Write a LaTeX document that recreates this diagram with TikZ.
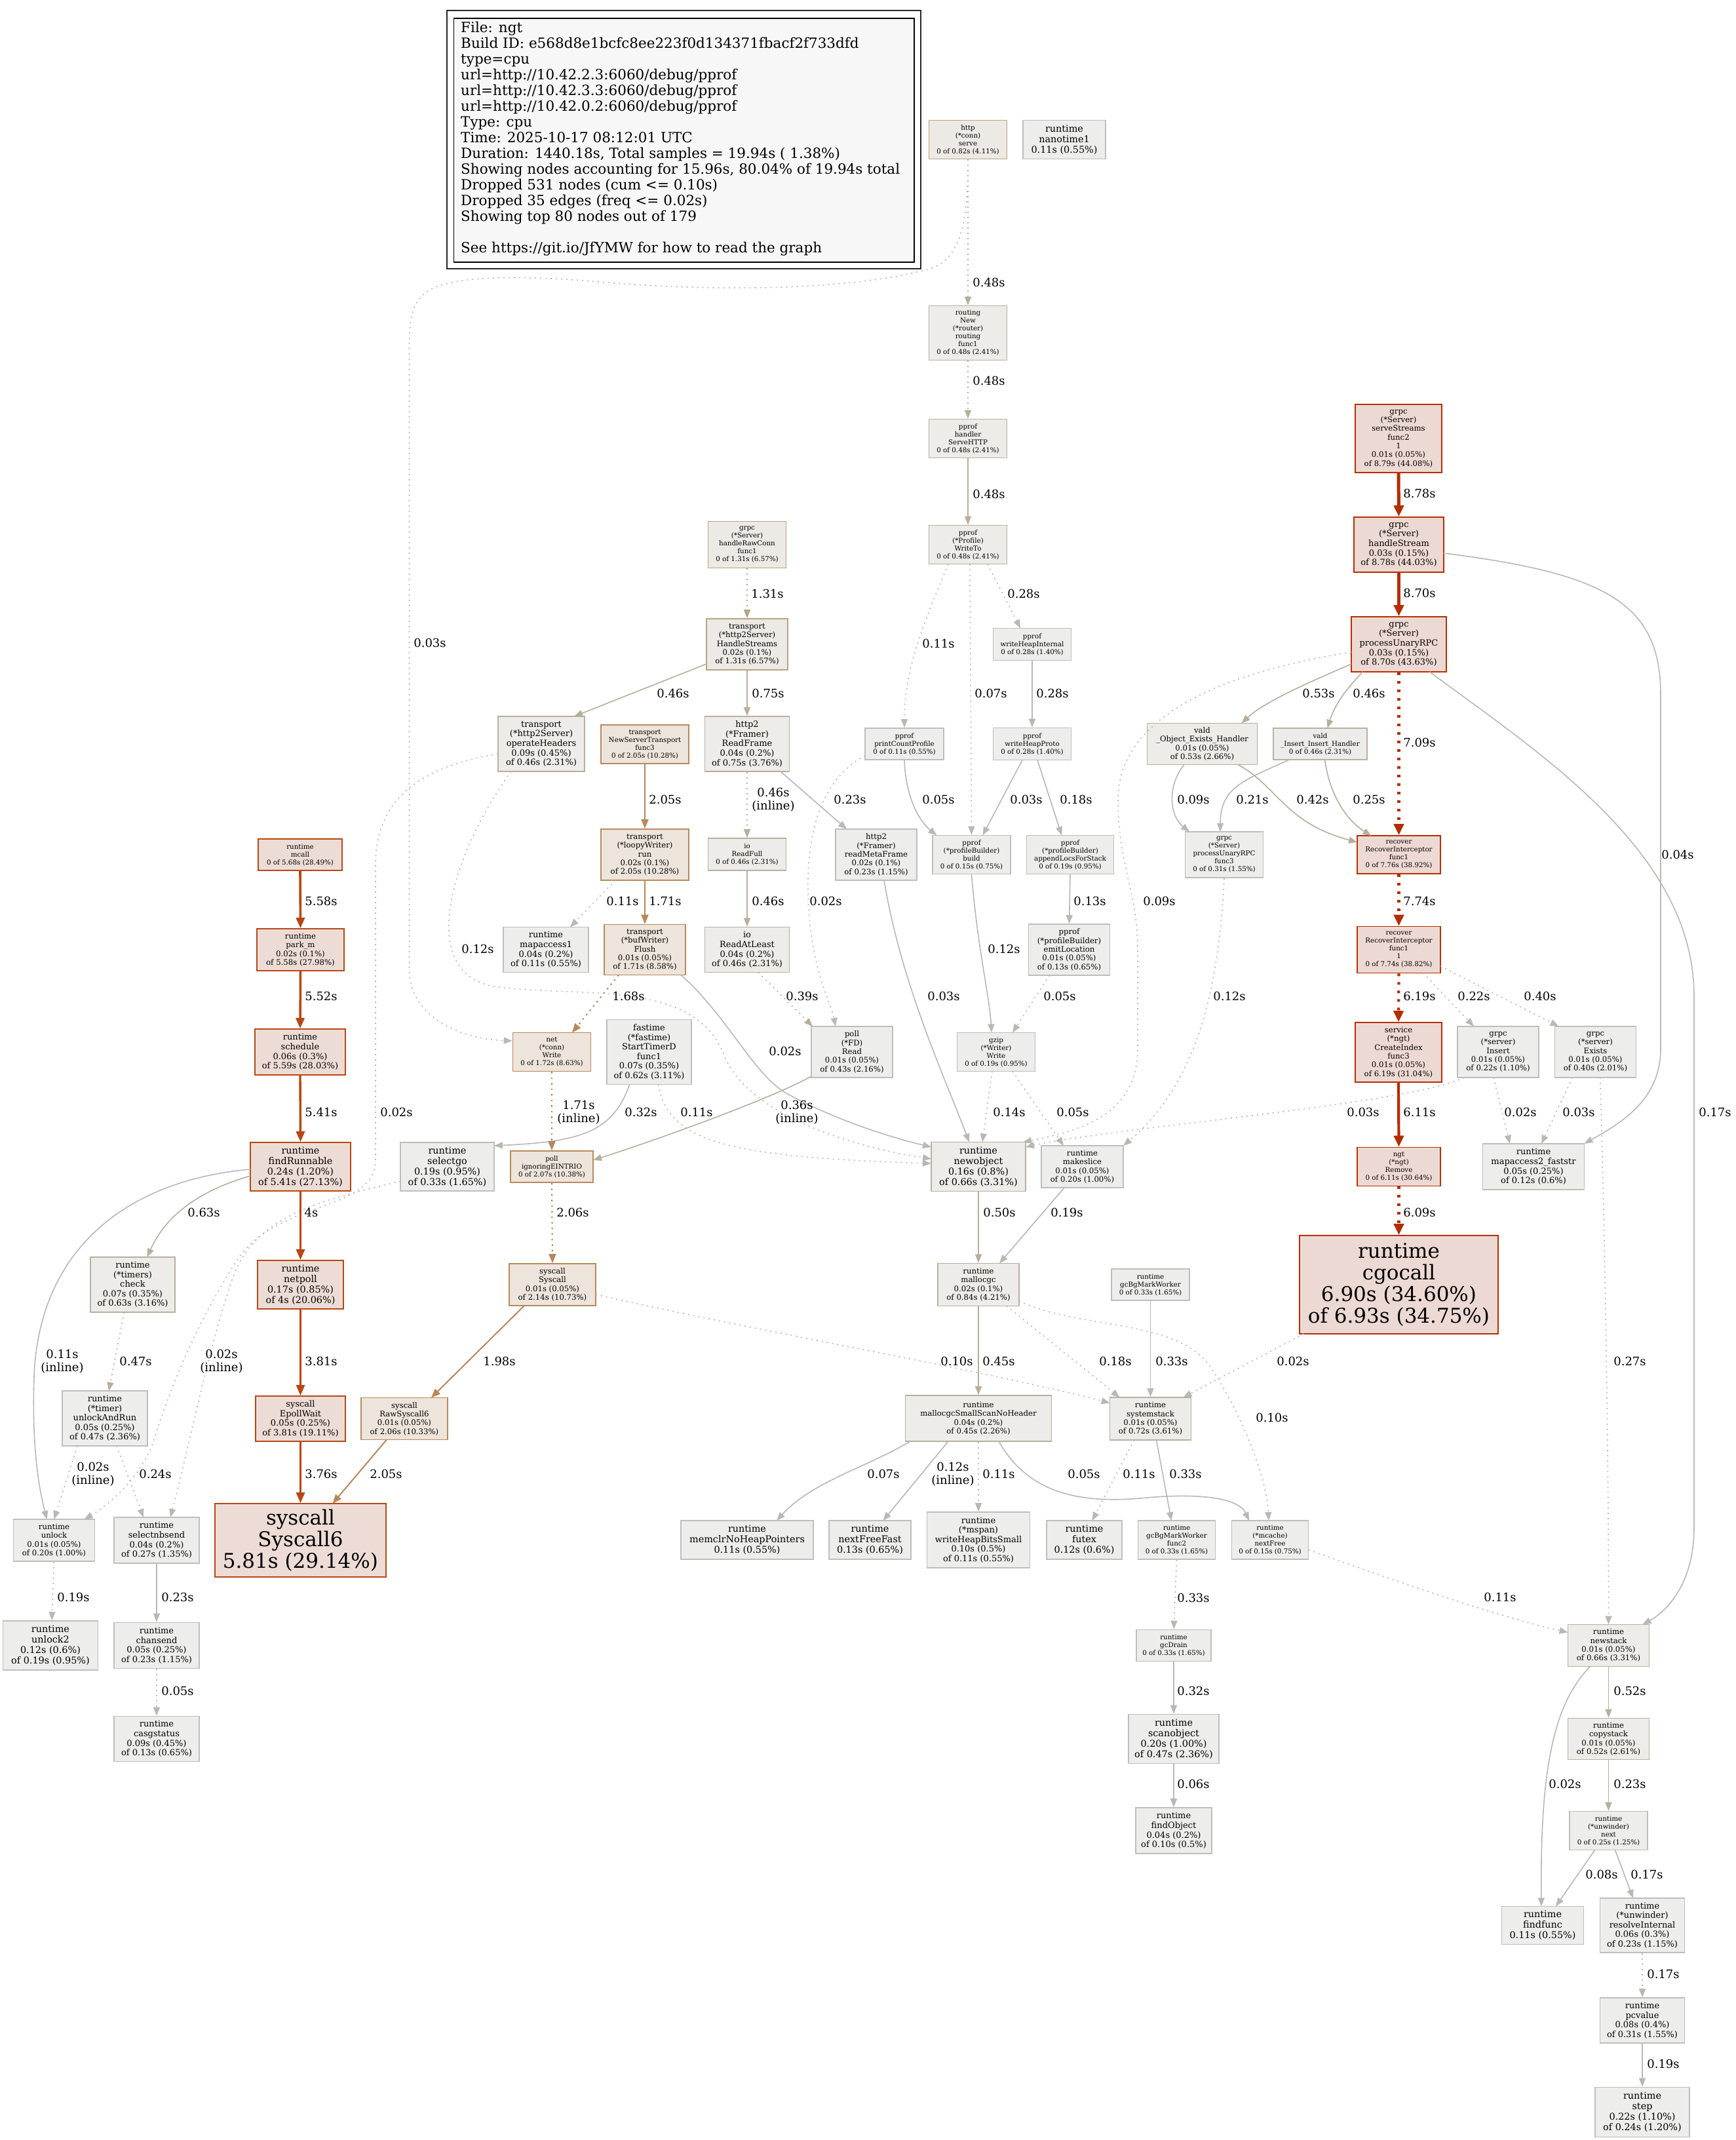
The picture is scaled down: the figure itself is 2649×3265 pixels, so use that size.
\documentclass[tikz,border=0pt]{standalone}
\usepackage{fontspec}
\setmainfont{DejaVu Serif}
\usetikzlibrary{arrows.meta,calc}
\definecolor{gryD}{HTML}{BEBEBA}
\definecolor{gryF}{HTML}{EDEDEB}
\definecolor{gtD}{HTML}{B8B0A0}
\definecolor{gtF}{HTML}{EDECE9}
\definecolor{lbD}{HTML}{B8A486}
\definecolor{lbF}{HTML}{EDE9E4}
\definecolor{tanD}{HTML}{B88A5C}
\definecolor{tanF}{HTML}{EDE4DB}
\definecolor{orD}{HTML}{B84814}
\definecolor{orF}{HTML}{EDDCD5}
\definecolor{rdD}{HTML}{B53000}
\definecolor{rdF}{HTML}{EDD9D3}
\definecolor{eGry}{HTML}{B8B8B5}
\definecolor{eGt}{HTML}{B8AE9C}
\definecolor{eTan}{HTML}{B8875A}
\definecolor{eOr}{HTML}{B84612}
\definecolor{eRd}{HTML}{B52C00}
\definecolor{legF}{HTML}{F7F7F7}
\tikzset{
 box/.style={rectangle, draw, line width=1.6pt, inner sep=0pt, align=center},
 sz/.style 2 args={minimum width=#1pt, minimum height=#2pt},
 ngry/.style={box, draw=gryD, fill=gryF},
 ngt/.style={box, draw=gtD, fill=gtF},
 nlb/.style={box, draw=lbD, fill=lbF},
 ntan/.style={box, draw=tanD, fill=tanF},
 nor/.style={box, draw=orD, fill=orF},
 nrd/.style={box, draw=rdD, fill=rdF},
 ft/.style={font=\fontsize{10.3}{12}\selectfont},
 fs/.style={font=\fontsize{11.7}{13.3}\selectfont},
 fm/.style={font=\fontsize{13}{14.6}\selectfont},
 fl/.style={font=\fontsize{14.4}{16}\selectfont},
 fh/.style={font=\fontsize{31}{33}\selectfont},
 lbl/.style={font=\fontsize{18}{20}\selectfont, inner sep=0pt, align=center},
 eg/.style={draw=eGry, line width=1.6pt, -{Triangle[length=13pt,width=10pt]}},
 egd/.style={eg, dash pattern=on 2pt off 6pt},
 egt/.style={draw=eGt, line width=1.6pt, -{Triangle[length=13pt,width=10pt]}},
 egtd/.style={egt, dash pattern=on 2pt off 6pt},
 etan/.style={draw=eTan, line width=2pt, -{Triangle[length=14pt,width=11pt]}},
 etand/.style={etan, dash pattern=on 2.5pt off 6pt},
 eor/.style={draw=eOr, line width=#1pt, -{Triangle[length=16pt,width=13pt]}},
 erd/.style={draw=eRd, line width=#1pt, -{Triangle[length=17pt,width=15pt]}},
 erdd/.style={erd=#1, dash pattern=on 4pt off 9pt},
}
\begin{document}
\begin{tikzpicture}[x=1pt,y=-1pt]
\useasboundingbox[fill=white] (0,0) rectangle (2649,3265);
% legend
\node[draw=black!85, line width=1.6pt, sz={723}{394}, anchor=north west] (legout) at (681,15) {};
\node[draw=black, fill=legF, line width=1.6pt, sz={702.5}{372}, anchor=north west] (legin) at (691.5,27) {};
\node[anchor=north west, align=left, inner sep=0pt, font=\fontsize{21.5}{24}\selectfont] (legtext) at (703,33) {File: ngt\\Build ID: e568d8e1bcfc8ee223f0d134371fbacf2f733dfd\\type=cpu\\url=http://10.42.2.3:6060/debug/pprof\\url=http://10.42.3.3:6060/debug/pprof\\url=http://10.42.0.2:6060/debug/pprof\\Type: cpu\\Time: 2025-10-17 08:12:01 UTC\\Duration: 1440.18s, Total samples = 19.94s ( 1.38\%)\\Showing nodes accounting for 15.96s, 80.04\% of 19.94s total\\Dropped 531 nodes (cum <= 0.10s)\\Dropped 35 edges (freq <= 0.02s)\\Showing top 80 nodes out of 179\\\mbox{}\\See https://git.io/JfYMW for how to read the graph};

% nodes
\node[nlb,ft,sz={119}{59}] (httpserve) at (1477,213) {http\\(*conn)\\serve\\0 of 0.82s (4.11\%)};
\node[ngry,fl,sz={126}{59}] (nanotime) at (1624,213) {runtime\\nanotime1\\0.11s (0.55\%)};
\node[ngt,ft,sz={119}{83}] (routing) at (1477,508) {routing\\New\\(*router)\\routing\\func1\\0 of 0.48s (2.41\%)};
\node[ngt,ft,sz={119}{59}] (servehttp) at (1477,669) {pprof\\handler\\ServeHTTP\\0 of 0.48s (2.41\%)};
\node[ngt,ft,sz={119}{59}] (writeto) at (1477,831) {pprof\\(*Profile)\\WriteTo\\0 of 0.48s (2.41\%)};
\node[nlb,ft,sz={119}{71}] (rawconn) at (1140,831) {grpc\\(*Server)\\handleRawConn\\func1\\0 of 1.31s (6.57\%)};
\node[nrd,fs,sz={132}{104}] (servestreams) at (2134,669) {grpc\\(*Server)\\serveStreams\\func2\\1\\0.01s (0.05\%)\\of 8.79s (44.08\%)};
\node[nrd,fm,sz={137}{84}] (handlestream) at (2134.5,831) {grpc\\(*Server)\\handleStream\\0.03s (0.15\%)\\of 8.78s (44.03\%)};
\node[nlb,fs,sz={124}{78}] (handlestreams) at (1140,983) {transport\\(*http2Server)\\HandleStreams\\0.02s (0.1\%)\\of 1.31s (6.57\%)};
\node[ngry,ft,sz={119}{49}] (writeheapint) at (1575,983) {pprof\\writeHeapInternal\\0 of 0.28s (1.40\%)};
\node[nrd,fm,sz={145}{84}] (processunary) at (2134.5,983) {grpc\\(*Server)\\processUnaryRPC\\0.03s (0.15\%)\\of 8.70s (43.63\%)};
\node[ngt,fm,sz={132}{84}] (operateheaders) at (826,1135) {transport\\(*http2Server)\\operateHeaders\\0.09s (0.45\%)\\of 0.46s (2.31\%)};
\node[ntan,ft,sz={134}{59}] (newserver) at (984,1135.5) {transport\\NewServerTransport\\func3\\0 of 2.05s (10.28\%)};
\node[ngt,fm,sz={129}{84}] (readframe) at (1140,1135) {http2\\(*Framer)\\ReadFrame\\0.04s (0.2\%)\\of 0.75s (3.76\%)};
\node[ngry,ft,sz={120}{48}] (printcount) at (1380,1135) {pprof\\printCountProfile\\0 of 0.11s (0.55\%)};
\node[ngry,ft,sz={119}{49}] (writeheapproto) at (1575,1135) {pprof\\writeHeapProto\\0 of 0.28s (1.40\%)};
\node[ngt,fs,sz={168}{63}] (objexists) at (1834.5,1135) {vald\\\_Object\_Exists\_Handler\\0.01s (0.05\%)\\of 0.53s (2.66\%)};
\node[ngt,ft,sz={143}{48}] (inserthandler) at (2014.5,1135) {vald\\\_Insert\_Insert\_Handler\\0 of 0.46s (2.31\%)};
\node[nor,ft,sz={128}{48}] (mcall) at (458,1304) {runtime\\mcall\\0 of 5.68s (28.49\%)};
\node[ntan,fs,sz={134}{78}] (loopy) at (984,1304) {transport\\(*loopyWriter)\\run\\0.02s (0.1\%)\\of 2.05s (10.28\%)};
\node[ngt,ft,sz={119}{49}] (readfull) at (1140,1303.5) {io\\ReadFull\\0 of 0.46s (2.31\%)};
\node[ngry,fs,sz={124}{78}] (readmeta) at (1337,1304) {http2\\(*Framer)\\readMetaFrame\\0.02s (0.1\%)\\of 0.23s (1.15\%)};
\node[ngry,ft,sz={119}{59}] (build) at (1482.5,1304) {pprof\\(*profileBuilder)\\build\\0 of 0.15s (0.75\%)};
\node[ngry,ft,sz={133}{59}] (appendlocs) at (1633,1304) {pprof\\(*profileBuilder)\\appendLocsForStack\\0 of 0.19s (0.95\%)};
\node[ngry,ft,sz={119}{70}] (func3) at (1868,1304) {grpc\\(*Server)\\processUnaryRPC\\func3\\0 of 0.31s (1.55\%)};
\node[nrd,ft,sz={127}{58}] (recint) at (2134.5,1304) {recover\\RecoverInterceptor\\func1\\0 of 7.76s (38.92\%)};
\node[nor,fs,sz={133}{64}] (parkm) at (458.5,1449) {runtime\\park\_m\\0.02s (0.1\%)\\of 5.58s (27.98\%)};
\node[ngry,fm,sz={130}{69}] (mapaccess1) at (833,1449) {runtime\\mapaccess1\\0.04s (0.2\%)\\of 0.11s (0.55\%)};
\node[ntan,fs,sz={124}{77}] (flush) at (984,1449) {transport\\(*bufWriter)\\Flush\\0.01s (0.05\%)\\of 1.71s (8.58\%)};
\node[ngt,fm,sz={129}{69}] (readatleast) at (1140,1449) {io\\ReadAtLeast\\0.04s (0.2\%)\\of 0.46s (2.31\%)};
\node[ngry,fs,sz={124}{78}] (emitloc) at (1631.5,1449) {pprof\\(*profileBuilder)\\emitLocation\\0.01s (0.05\%)\\of 0.13s (0.65\%)};
\node[nrd,ft,sz={127}{71}] (recint1) at (2134.5,1449) {recover\\RecoverInterceptor\\func1\\1\\0 of 7.74s (38.82\%)};
\node[nor,fm,sz={138}{70}] (schedule) at (458,1605) {runtime\\schedule\\0.06s (0.3\%)\\of 5.59s (28.03\%)};
\node[ntan,ft,sz={119}{59}] (netwrite) at (842,1605) {net\\(*conn)\\Write\\0 of 1.72s (8.63\%)};
\node[ngry,fm,sz={129}{99}] (fastime) at (990.5,1605) {fastime\\(*fastime)\\StartTimerD\\func1\\0.07s (0.35\%)\\of 0.62s (3.11\%)};
\node[ngry,fs,sz={124}{78}] (fdread) at (1300,1605) {poll\\(*FD)\\Read\\0.01s (0.05\%)\\of 0.43s (2.16\%)};
\node[ngry,ft,sz={119}{59}] (gzip) at (1520,1605) {gzip\\(*Writer)\\Write\\0 of 0.19s (0.95\%)};
\node[nrd,fs,sz={132}{91}] (createindex) at (2134,1605.5) {service\\(*ngt)\\CreateIndex\\func3\\0.01s (0.05\%)\\of 6.19s (31.04\%)};
\node[ngry,fs,sz={124}{78}] (insert) at (2286,1605) {grpc\\(*server)\\Insert\\0.01s (0.05\%)\\of 0.22s (1.10\%)};
\node[ngry,fs,sz={124}{78}] (exists) at (2434.5,1605) {grpc\\(*server)\\Exists\\0.01s (0.05\%)\\of 0.40s (2.01\%)};
\node[nor,fl,sz={153}{74}] (findrunnable) at (458.5,1780) {runtime\\findRunnable\\0.24s (1.20\%)\\of 5.41s (27.13\%)};
\node[ngry,fl,sz={143}{74}] (selectgo) at (682.5,1780) {runtime\\selectgo\\0.19s (0.95\%)\\of 0.33s (1.65\%)};
\node[ntan,ft,sz={126}{48}] (eintr) at (842,1780) {poll\\ignoringEINTRIO\\0 of 2.07s (10.38\%)};
\node[ngt,fl,sz={144}{75}] (newobject) at (1493,1780) {runtime\\newobject\\0.16s (0.8\%)\\of 0.66s (3.31\%)};
\node[ngry,fs,sz={125}{64}] (makeslice) at (1651.5,1780) {runtime\\makeslice\\0.01s (0.05\%)\\of 0.20s (1.00\%)};
\node[nrd,ft,sz={127}{59}] (remove) at (2134.5,1780) {ngt\\(*ngt)\\Remove\\0 of 6.11s (30.64\%)};
\node[ngry,fm,sz={155}{70}] (mapaccess2) at (2340,1780) {runtime\\mapaccess2\_faststr\\0.05s (0.25\%)\\of 0.12s (0.6\%)};
\node[ngt,fm,sz={129}{84}] (timerscheck) at (202.5,1960) {runtime\\(*timers)\\check\\0.07s (0.35\%)\\of 0.63s (3.16\%)};
\node[nor,fl,sz={131}{74}] (netpoll) at (458.5,1960) {runtime\\netpoll\\0.17s (0.85\%)\\of 4s (20.06\%)};
\node[ntan,fs,sz={132}{64}] (syscall) at (843,1960) {syscall\\Syscall\\0.01s (0.05\%)\\of 2.14s (10.73\%)};
\node[ngt,fs,sz={124}{65}] (mallocgc) at (1493,1960) {runtime\\mallocgc\\0.02s (0.1\%)\\of 0.84s (4.21\%)};
\node[ngry,ft,sz={119}{48}] (gcbg) at (1755.5,1960) {runtime\\gcBgMarkWorker\\0 of 0.33s (1.65\%)};
\node[nrd,fh,sz={303}{150}] (cgocall) at (2134.5,1960) {runtime\\cgocall\\6.90s (34.60\%)\\of 6.93s (34.75\%)};
\node[ngry,fm,sz={130}{84}] (unlockandrun) at (160,2164) {runtime\\(*timer)\\unlockAndRun\\0.05s (0.25\%)\\of 0.47s (2.36\%)};
\node[nor,fm,sz={137}{69}] (epollwait) at (458.5,2164.5) {syscall\\EpollWait\\0.05s (0.25\%)\\of 3.81s (19.11\%)};
\node[ntan,fs,sz={132}{64}] (rawsyscall6) at (617,2164.5) {syscall\\RawSyscall6\\0.01s (0.05\%)\\of 2.06s (10.33\%)};
\node[ngt,fs,sz={223}{70}] (mallocsmall) at (1493,2164) {runtime\\mallocgcSmallScanNoHeader\\0.04s (0.2\%)\\of 0.45s (2.26\%)};
\node[ngt,fs,sz={124}{65}] (systemstack) at (1755.5,2164.5) {runtime\\systemstack\\0.01s (0.05\%)\\of 0.72s (3.61\%)};
\node[ngry,fs,sz={124}{64}] (unlock) at (82.5,2350) {runtime\\unlock\\0.01s (0.05\%)\\of 0.20s (1.00\%)};
\node[ngry,fm,sz={130}{70}] (selectnbsend) at (239,2350) {runtime\\selectnbsend\\0.04s (0.2\%)\\of 0.27s (1.35\%)};
\node[nor,fh,sz={261}{112}] (syscall6) at (458.5,2350) {syscall\\Syscall6\\5.81s (29.14\%)};
\node[ngry,fl,sz={202}{59}] (memclr) at (1140,2349.5) {runtime\\memclrNoHeapPointers\\0.11s (0.55\%)};
\node[ngry,fl,sz={125}{59}] (nextfreefast) at (1327.5,2349.5) {runtime\\nextFreeFast\\0.13s (0.65\%)};
\node[ngry,fm,sz={157}{85}] (writeheapbits) at (1493,2349.5) {runtime\\(*mspan)\\writeHeapBitsSmall\\0.10s (0.5\%)\\of 0.11s (0.55\%)};
\node[ngry,fl,sz={115}{59}] (futex) at (1654.5,2349.5) {runtime\\futex\\0.12s (0.6\%)};
\node[ngry,ft,sz={118}{59}] (gcfunc2) at (1795.5,2349.5) {runtime\\gcBgMarkWorker\\func2\\0 of 0.33s (1.65\%)};
\node[ngry,ft,sz={117}{59}] (mcachenext) at (1938,2349.5) {runtime\\(*mcache)\\nextFree\\0 of 0.15s (0.75\%)};
\node[ngry,fl,sz={145}{75}] (unlock2) at (77,2510.5) {runtime\\unlock2\\0.12s (0.6\%)\\of 0.19s (0.95\%)};
\node[ngry,fm,sz={130}{70}] (chansend) at (239,2510.5) {runtime\\chansend\\0.05s (0.25\%)\\of 0.23s (1.15\%)};
\node[ngry,ft,sz={114}{48}] (gcdrain) at (1791,2510.5) {runtime\\gcDrain\\0 of 0.33s (1.65\%)};
\node[ngt,fs,sz={124}{64}] (newstack) at (2454.5,2510.5) {runtime\\newstack\\0.01s (0.05\%)\\of 0.66s (3.31\%)};
\node[ngry,fm,sz={130}{69}] (casgstatus) at (239,2653) {runtime\\casgstatus\\0.09s (0.45\%)\\of 0.13s (0.65\%)};
\node[ngry,fl,sz={138}{75}] (scanobject) at (1791,2653) {runtime\\scanobject\\0.20s (1.00\%)\\of 0.47s (2.36\%)};
\node[ngt,fs,sz={124}{63}] (copystack) at (2454.5,2653) {runtime\\copystack\\0.01s (0.05\%)\\of 0.52s (2.61\%)};
\node[ngry,fm,sz={116}{70}] (findobject) at (1791,2793) {runtime\\findObject\\0.04s (0.2\%)\\of 0.10s (0.5\%)};
\node[ngry,ft,sz={119}{59}] (unwindernext) at (2454.5,2793) {runtime\\(*unwinder)\\next\\0 of 0.25s (1.25\%)};
\node[ngry,fl,sz={125}{58}] (findfunc) at (2354,2937.5) {runtime\\findfunc\\0.11s (0.55\%)};
\node[ngry,fm,sz={129}{83}] (resolveinternal) at (2506,2937.5) {runtime\\(*unwinder)\\resolveInternal\\0.06s (0.3\%)\\of 0.23s (1.15\%)};
\node[ngry,fm,sz={129}{69}] (pcvalue) at (2506,3082.5) {runtime\\pcvalue\\0.08s (0.4\%)\\of 0.31s (1.55\%)};
\node[ngry,fl,sz={144}{76}] (step) at (2506,3222.5) {runtime\\step\\0.22s (1.10\%)\\of 0.24s (1.20\%)};

% edges
\draw[egtd] (httpserve.south) -- (routing.north);
\draw[egd] (httpserve.south) .. controls (1477,360) and (1460,405) .. (1403,414) .. controls (1300,440) and (1100,448) .. (891,428) .. controls (780,420) and (700,422) .. (660,440) .. controls (630,455) and (624.5,480) .. (624.5,530) -- (624.5,1480) .. controls (625,1550) and (700,1585) .. ($(netwrite.west)+(0,-17)$);
\draw[egtd] (routing.south) -- (servehttp.north);
\draw[egt] (servehttp.south) -- (writeto.north);
\draw[egd] ($(writeto)+(-30,29.5)$) .. controls (1410,950) and (1380,1020) .. (printcount.north);
\draw[egd] ($(writeto)+(3,29.5)$) -- (build.north);
\draw[egd] ($(writeto)+(30,29.5)$) -- ($(writeheapint)+(-18,-24.5)$);
\draw[eg] (writeheapint.south) -- (writeheapproto.north);
\draw[eg] ($(writeheapproto)+(-15,24.5)$) -- ($(build)+(17,-29.5)$);
\draw[eg] ($(writeheapproto)+(8,24.5)$) -- ($(appendlocs)+(-13,-29.5)$);
\draw[eg] (printcount.south) .. controls (1382,1220) and (1405,1255) .. ($(build)+(-53,-29.5)$);
\draw[egd] ($(printcount)+(-60,18)$) .. controls (1250,1190) and (1225,1280) .. (1235,1400) .. controls (1243,1490) and (1268,1530) .. ($(fdread)+(-25,-39)$);
\draw[eg] (build.south) .. controls (1492,1450) and (1510,1520) .. ($(gzip)+(-7,-29.5)$);
\draw[eg] (appendlocs.south) -- (emitloc.north);
\draw[egd] ($(emitloc)+(-30,39)$) -- ($(gzip)+(25,-29.5)$);
\draw[egd] ($(gzip)+(-6,29.5)$) -- ($(newobject)+(6,-37.5)$);
\draw[egd] ($(gzip)+(25,29.5)$) -- ($(makeslice)+(-28.5,-32)$);
\draw[eg] ($(readmeta)+(12,39)$) .. controls (1375,1500) and (1440,1640) .. ($(newobject)+(-14,-37.5)$);
\draw[egtd, draw=lbD] (rawconn.south) -- (handlestreams.north);
\draw[egt] ($(handlestreams)+(-62,30)$) -- ($(operateheaders)+(50,-42)$);
\draw[egt] (handlestreams.south) -- (readframe.north);
\draw[etan] (newserver.south) -- (loopy.north);
\draw[egtd] (readframe.south) -- (readfull.north);
\draw[eg] ($(readframe)+(51,42)$) -- ($(readmeta)+(-45,-39)$);
\draw[egt] (readfull.south) -- (readatleast.north);
\draw[egtd] ($(readatleast)+(17,34.5)$) -- ($(fdread)+(-60,-39)$);
\draw[egt] ($(fdread)+(-62,37)$) .. controls (1180,1675) and (1000,1740) .. ($(eintr)+(63,-10)$);
\draw[egd] ($(loopy)+(-45,39)$) -- ($(mapaccess1)+(37,-34.5)$);
\draw[etan] (loopy.south) -- (flush.north);
\draw[etand] ($(flush)+(-40,38.5)$) -- ($(netwrite)+(31,-29.5)$);
\draw[eg] ($(flush)+(55,38.5)$) .. controls (1110,1550) and (1150,1640) .. (1200,1668) .. controls (1280,1712) and (1370,1738) .. ($(newobject)+(-72,-30)$);
\draw[eg] ($(fastime)+(-30,49.5)$) .. controls (935,1730) and (880,1742) .. ($(selectgo)+(71.5,-32)$);
\draw[egd] ($(fastime)+(14,49.5)$) .. controls (1020,1740) and (1100,1765) .. ($(newobject)+(-72,-5)$);
\draw[egd] ($(operateheaders)+(-46,42)$) .. controls (690,1300) and (630,1490) .. (760,1506) .. controls (900,1522) and (1060,1495) .. (1105,1610) .. controls (1140,1700) and (1300,1750) .. ($(newobject)+(-72,-12)$);
\draw[egd] ($(operateheaders)+(-66,15)$) .. controls (640,1170) and (573,1220) .. (573,1320) -- (573,1770) .. controls (573,1850) and (420,1830) .. (360,1925) .. controls (300,2020) and (262,2110) .. (232,2205) .. controls (210,2260) and (160,2300) .. ($(unlock)+(46,-32)$);
\draw[egd] ($(selectgo)+(-71.5,22)$) .. controls (500,1830) and (390,1850) .. (355,1950) .. controls (320,2050) and (290,2200) .. ($(selectnbsend)+(21,-35)$);
\draw[egt] ($(findrunnable)+(-76.5,14)$) .. controls (310,1815) and (255,1850) .. ($(timerscheck)+(22,-42)$);
\draw[eor=2.8] (findrunnable.south) -- (netpoll.north);
\draw[eg] ($(findrunnable)+(-76.5,4)$) .. controls (200,1800) and (60,1900) .. (52,2100) .. controls (48,2220) and (62,2280) .. ($(unlock)+(-11,-32)$);
\draw[egtd] ($(timerscheck)+(-13,42)$) -- ($(unlockandrun)+(6,-42)$);
\draw[egd] ($(unlockandrun)+(-42,42)$) -- ($(unlock)+(0,-32)$);
\draw[egd] ($(unlockandrun)+(18,42)$) -- ($(selectnbsend)+(-20,-35)$);
\draw[egd] (unlock.south) -- ($(unlock2.north)+(2,0)$);
\draw[eg] (selectnbsend.south) -- (chansend.north);
\draw[egd] (chansend.south) -- (casgstatus.north);
\draw[eor=3.6] (mcall.south) -- (parkm.north);
\draw[eor=3.5] (parkm.south) -- (schedule.north);
\draw[eor=3.4] (schedule.south) -- (findrunnable.north);
\draw[eor=2.6] (netpoll.south) -- (epollwait.north);
\draw[eor=2.6] (epollwait.south) -- (syscall6.north);
\draw[etand] (netwrite.south) -- (eintr.north);
\draw[etand] (eintr.south) -- (syscall.north);
\draw[etan] ($(syscall)+(-43,32)$) -- ($(rawsyscall6)+(41,-32)$);
\draw[etan] ($(rawsyscall6)+(-27,32)$) -- ($(syscall6)+(49,-56)$);
\draw[egd] ($(syscall)+(66,15)$) .. controls (1150,2030) and (1500,2090) .. ($(systemstack)+(-62,-24)$);
\draw[egt] (newobject.south) -- (mallocgc.north);
\draw[eg] ($(makeslice)+(-27.5,32)$) -- ($(mallocgc)+(32,-32.5)$);
\draw[egt] (mallocgc.south) -- (mallocsmall.north);
\draw[egd] ($(mallocgc)+(43,32.5)$) -- ($(systemstack)+(-47,-32.5)$);
\draw[egd] ($(mallocgc)+(62,25)$) .. controls (1650,2030) and (1800,2010) .. (1850,2090) .. controls (1895,2160) and (1932,2250) .. ($(mcachenext)+(-2,-29.5)$);
\draw[eg] (gcbg.south) -- (systemstack.north);
\draw[egd] ($(cgocall)+(-145,75)$) -- ($(systemstack)+(50,-32.5)$);
\draw[eg] ($(mallocsmall)+(-104,35)$) .. controls (1320,2240) and (1240,2260) .. ($(memclr)+(45,-29.5)$);
\draw[eg] ($(mallocsmall)+(-46,35)$) -- ($(nextfreefast)+(20,-29.5)$);
\draw[egd] (mallocsmall.south) -- (writeheapbits.north);
\draw[eg] ($(mallocsmall)+(31,35)$) .. controls (1570,2280) and (1650,2295) .. (1750,2285) .. controls (1830,2278) and (1890,2285) .. ($(mcachenext)+(-32,-29.5)$);
\draw[egd] ($(systemstack)+(-25,32.5)$) -- ($(futex)+(12,-29.5)$);
\draw[eg] ($(systemstack)+(9,32.5)$) -- ($(gcfunc2)+(-8,-29.5)$);
\draw[egd] (gcfunc2.south) -- (gcdrain.north);
\draw[eg] (gcdrain.south) -- (scanobject.north);
\draw[eg] (scanobject.south) -- (findobject.north);
\draw[egd] ($(mcachenext)+(58.5,15)$) .. controls (2150,2420) and (2300,2470) .. ($(newstack)+(-62,-20)$);
\draw[egt] (newstack.south) -- (copystack.north);
\draw[eg] ($(newstack)+(-28,32)$) .. controls (2370,2600) and (2350,2700) .. ($(findfunc)+(-2,-29)$);
\draw[egt] (copystack.south) -- (unwindernext.north);
\draw[eg] ($(unwindernext)+(-21,29.5)$) -- ($(findfunc)+(20,-29)$);
\draw[eg] ($(unwindernext)+(10,29.5)$) -- ($(resolveinternal)+(-14,-41.5)$);
\draw[egd] (resolveinternal.south) -- (pcvalue.north);
\draw[eg] (pcvalue.south) -- (step.north);
\draw[eg] ($(processunary)+(47,42)$) .. controls (2350,1150) and (2585,1300) .. (2585,1520) -- (2585,2330) .. controls (2585,2420) and (2540,2460) .. ($(newstack)+(52,-32)$);
\draw[eg] ($(handlestream)+(68.5,13)$) .. controls (2450,875) and (2534,920) .. (2534,1060) -- (2534,1600) .. controls (2534,1680) and (2470,1715) .. ($(mapaccess2)+(77.5,-35)$);
\draw[egt] ($(processunary)+(-72.5,30)$) .. controls (2000,1040) and (1930,1070) .. ($(objexists)+(60,-31.5)$);
\draw[egt] ($(processunary)+(-55,42)$) .. controls (2050,1055) and (2035,1080) .. ($(inserthandler)+(11,-24)$);
\draw[erdd=4.5] (processunary.south) -- (recint.north);
\draw[egd] ($(processunary)+(-72.5,12)$) .. controls (1900,1020) and (1706,1080) .. (1706,1220) .. controls (1706,1320) and (1736,1360) .. (1736,1450) -- (1736,1600) .. controls (1736,1700) and (1650,1725) .. ($(newobject)+(68,-37.5)$);
\draw[eg] ($(objexists)+(-27.5,31.5)$) .. controls (1780,1200) and (1785,1245) .. ($(func3)+(-53,-35)$);
\draw[egt] ($(objexists)+(54.5,31.5)$) .. controls (1950,1200) and (1960,1255) .. ($(recint)+(-63.5,-19)$);
\draw[eg] ($(inserthandler)+(-47,24)$) .. controls (1900,1190) and (1862,1200) .. ($(func3)+(-6,-35)$);
\draw[egt] ($(inserthandler)+(7,24)$) .. controls (2030,1220) and (2060,1255) .. ($(recint)+(-42,-29)$);
\draw[egd] (func3.south) .. controls (1860,1500) and (1830,1650) .. ($(makeslice)+(62.5,-32)$);
\draw[erdd=4.5] (recint.south) -- (recint1.north);
\draw[erdd=4.2] (recint1.south) -- (createindex.north);
\draw[egd] ($(recint1)+(37,35.5)$) -- ($(insert)+(-37,-39)$);
\draw[egd] ($(recint1)+(63.5,25)$) -- ($(exists)+(-56,-39)$);
\draw[egd] ($(insert)+(-52,39)$) .. controls (2150,1685) and (1700,1720) .. ($(newobject)+(72,-30)$);
\draw[egd] ($(insert)+(-7,39)$) -- ($(mapaccess2)+(-36,-35)$);
\draw[egd] ($(exists)+(-35,39)$) -- ($(mapaccess2)+(12,-35)$);
\draw[egd] ($(exists)+(7,39)$) .. controls (2450,1900) and (2455,2300) .. ($(newstack)+(0,-32)$);
\draw[erd=4.2] (createindex.south) -- (remove.north);
\draw[erdd=4.2] (remove.south) -- (cgocall.north);
\draw[erd=5] (servestreams.south) -- (handlestream.north);
\draw[erd=5] (handlestream.south) -- (processunary.north);

% edge labels
\node[lbl] (l1) at (1509,431) {0.48s};
\node[lbl] (l2) at (1509,581) {0.48s};
\node[lbl] (l3) at (1509,754) {0.48s};
\node[lbl] (l4) at (1171,906) {1.31s};
\node[lbl] (l5) at (1562,906) {0.28s};
\node[lbl] (l6) at (2166,753) {8.78s};
\node[lbl] (l7) at (2166,905) {8.70s};
\node[lbl] (l8) at (1027,1058) {0.46s};
\node[lbl] (l9) at (1172,1058) {0.75s};
\node[lbl] (l10) at (1432,982) {0.11s};
\node[lbl] (l11) at (1512,1058) {0.07s};
\node[lbl] (l12) at (1606,1058) {0.28s};
\node[lbl] (l13) at (2012,1058) {0.53s};
\node[lbl] (l14) at (2089,1058) {0.46s};
\node[lbl] (l15) at (2166,1133) {7.09s};
\node[lbl] (l16) at (656,981) {0.03s};
\node[lbl] (l17) at (1015,1220) {2.05s};
\node[lbl] (l18) at (1180,1220) {0.46s\\(inline)};
\node[lbl] (l19) at (1297,1220) {0.23s};
\node[lbl] (l20) at (1432,1220) {0.05s};
\node[lbl] (l21) at (1566,1220) {0.03s};
\node[lbl] (l22) at (1642,1220) {0.18s};
\node[lbl] (l23) at (1821,1220) {0.09s};
\node[lbl] (l24) at (1911,1220) {0.21s};
\node[lbl] (l25) at (2003,1220) {0.42s};
\node[lbl] (l26) at (2089,1220) {0.25s};
\node[lbl] (l27) at (490,1375) {5.58s};
\node[lbl] (l28) at (950,1375) {0.11s};
\node[lbl] (l29) at (1015,1375) {1.71s};
\node[lbl] (l30) at (1172,1375) {0.46s};
\node[lbl] (l31) at (1260,1375) {0.02s};
\node[lbl] (l32) at (1663,1375) {0.13s};
\node[lbl] (l33) at (1769,1375) {0.09s};
\node[lbl] (l34) at (2166,1375) {7.74s};
\node[lbl] (l35) at (729,1448) {0.12s};
\node[lbl] (l36) at (1532,1448) {0.12s};
\node[lbl] (l37) at (2560,1304) {0.04s};
\node[lbl] (l38) at (490,1520) {5.52s};
\node[lbl] (l39) at (959,1520) {1.68s};
\node[lbl] (l40) at (1224,1520) {0.39s};
\node[lbl] (l41) at (1440,1520) {0.03s};
\node[lbl] (l42) at (1617,1520) {0.05s};
\node[lbl] (l43) at (1876,1520) {0.12s};
\node[lbl] (l44) at (2166,1520) {6.19s};
\node[lbl] (l45) at (2249,1520) {0.22s};
\node[lbl] (l46) at (2350,1520) {0.40s};
\node[lbl] (l47) at (1198,1604) {0.02s};
\node[lbl] (l48) at (490,1697) {5.41s};
\node[lbl] (l49) at (605,1697) {0.02s};
\node[lbl] (l50) at (883,1697) {1.71s\\(inline)};
\node[lbl] (l51) at (978,1697) {0.32s};
\node[lbl] (l52) at (1063,1697) {0.11s};
\node[lbl] (l53) at (1216,1697) {0.36s\\(inline)};
\node[lbl] (l54) at (1540,1697) {0.14s};
\node[lbl] (l55) at (1637,1697) {0.05s};
\node[lbl] (l56) at (2080,1697) {0.03s};
\node[lbl] (l57) at (2166,1697) {6.11s};
\node[lbl] (l58) at (2320,1697) {0.02s};
\node[lbl] (l59) at (2409,1697) {0.03s};
\node[lbl] (l60) at (2617,1697) {0.17s};
\node[lbl] (l61) at (311,1850) {0.63s};
\node[lbl] (l62) at (475,1850) {4s};
\node[lbl] (l63) at (874,1850) {2.06s};
\node[lbl] (l64) at (1525,1850) {0.50s};
\node[lbl] (l65) at (1628,1850) {0.19s};
\node[lbl] (l66) at (2166,1850) {6.09s};
\node[lbl] (l67) at (95,2077) {0.11s\\(inline)};
\node[lbl] (l68) at (207,2077) {0.47s};
\node[lbl] (l69) at (338,2077) {0.02s\\(inline)};
\node[lbl] (l70) at (490,2077) {3.81s};
\node[lbl] (l71) at (762,2077) {1.98s};
\node[lbl] (l72) at (1460,2077) {0.10s};
\node[lbl] (l73) at (1524,2077) {0.45s};
\node[lbl] (l74) at (1702,2077) {0.18s};
\node[lbl] (l75) at (1788,2077) {0.33s};
\node[lbl] (l76) at (1973,2077) {0.02s};
\node[lbl] (l77) at (2487,2077) {0.27s};
\node[lbl] (l78) at (1941,2163) {0.10s};
\node[lbl] (l79) at (142,2249) {0.02s\\(inline)};
\node[lbl] (l80) at (237,2249) {0.24s};
\node[lbl] (l81) at (490,2249) {3.76s};
\node[lbl] (l82) at (589,2249) {2.05s};
\node[lbl] (l83) at (1348,2249) {0.07s};
\node[lbl] (l84) at (1454,2249) {0.12s\\(inline)};
\node[lbl] (l85) at (1524,2249) {0.11s};
\node[lbl] (l86) at (1654,2249) {0.05s};
\node[lbl] (l87) at (1738,2249) {0.11s};
\node[lbl] (l88) at (1809,2249) {0.33s};
\node[lbl] (l89) at (112,2437) {0.19s};
\node[lbl] (l90) at (271,2437) {0.23s};
\node[lbl] (l91) at (1821,2438) {0.33s};
\node[lbl] (l92) at (2289,2437) {0.11s};
\node[lbl] (l93) at (271,2580) {0.05s};
\node[lbl] (l94) at (1821,2580) {0.32s};
\node[lbl] (l95) at (2487,2580) {0.52s};
\node[lbl] (l96) at (1821,2722) {0.06s};
\node[lbl] (l97) at (2388,2722) {0.02s};
\node[lbl] (l98) at (2487,2722) {0.23s};
\node[lbl] (l99) at (2444,2860) {0.08s};
\node[lbl] (l100) at (2513,2860) {0.17s};
\node[lbl] (l101) at (2538,3012) {0.17s};
\node[lbl] (l102) at (2538,3149) {0.19s};
\end{tikzpicture}
\end{document}
